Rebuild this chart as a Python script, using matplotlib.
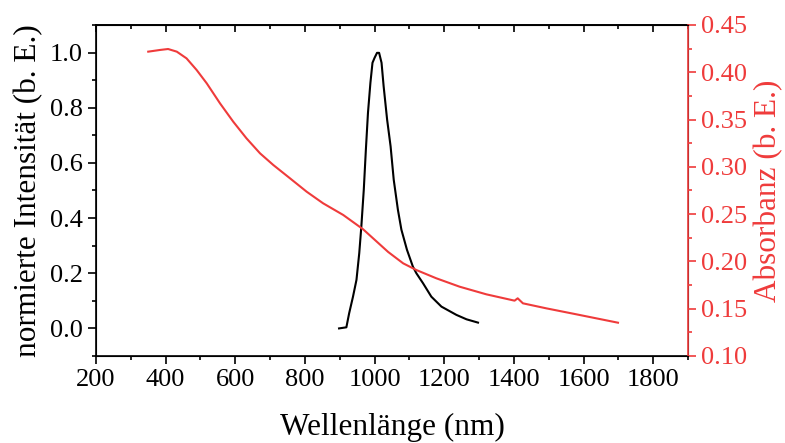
import matplotlib
matplotlib.use("Agg")
import matplotlib.pyplot as plt
from matplotlib.ticker import MultipleLocator, FormatStrFormatter

plt.rcParams['font.family'] = ['Liberation Serif', 'DejaVu Serif']

# Emission (black, left axis)
em_x = [898, 919, 927, 938, 948, 956, 962, 969, 975, 981, 988, 994, 1000, 1007,
        1013, 1020, 1026, 1036, 1046, 1055, 1067, 1077, 1093, 1110, 1120, 1139,
        1163, 1192, 1235, 1264, 1297]
em_y = [0.0, 0.004, 0.055, 0.115, 0.176, 0.273, 0.37, 0.503, 0.648, 0.781, 0.89,
        0.963, 0.981, 0.999, 0.999, 0.963, 0.878, 0.757, 0.66, 0.539, 0.43, 0.358,
        0.285, 0.224, 0.200, 0.164, 0.115, 0.079, 0.049, 0.033, 0.021]

# Absorbance (red, right axis)
ab_x = [350, 384, 407, 432, 460, 489, 518, 556, 594, 632, 671, 709, 757, 805, 852,
        910, 967, 1000, 1039, 1082, 1120, 1177, 1244, 1321, 1402, 1411, 1426, 1493,
        1579, 1699]
ab_y = [0.4218, 0.4236, 0.4246, 0.4218, 0.4147, 0.4024, 0.3883, 0.3672, 0.3478,
        0.3302, 0.3143, 0.3020, 0.2879, 0.2737, 0.2615, 0.2491, 0.2340, 0.2230,
        0.2100, 0.1980, 0.1909, 0.1822, 0.1733, 0.1652, 0.1585, 0.1610, 0.1557,
        0.1504, 0.1441, 0.1352]

red = '#ef3b3b'

fig = plt.figure(figsize=(7.85, 4.43), dpi=100)
ax = fig.add_axes([0.1223, 0.1964, 0.7541, 0.7472])
ax2 = ax.twinx()

ax.plot(em_x, em_y, color='black', lw=1.5)
ax2.plot(ab_x, ab_y, color=red, lw=1.5)

ax.set_xlim(200, 1900)
ax.set_ylim(-0.1, 1.1)
ax2.set_ylim(0.10, 0.45)

ax.xaxis.set_major_locator(MultipleLocator(200))
ax.xaxis.set_minor_locator(MultipleLocator(100))
ax.yaxis.set_major_locator(MultipleLocator(0.2))
ax.yaxis.set_minor_locator(MultipleLocator(0.1))
ax2.yaxis.set_major_locator(MultipleLocator(0.05))
ax2.yaxis.set_minor_locator(MultipleLocator(0.025))

ax.xaxis.set_major_formatter(FormatStrFormatter('%d'))
ax.yaxis.set_major_formatter(FormatStrFormatter('%.1f'))
ax2.yaxis.set_major_formatter(FormatStrFormatter('%.2f'))

fs = 19
ax.tick_params(axis='x', which='major', direction='out', length=6, width=1.2,
               labelsize=fs, top=False)
ax.tick_params(axis='x', which='minor', direction='out', length=3, width=1.2, top=False)
ax.tick_params(axis='y', which='major', direction='out', length=6, width=1.2, labelsize=fs)
ax.tick_params(axis='y', which='minor', direction='out', length=3, width=1.2)

# top axis ticks inward, no labels
sec = ax.secondary_xaxis('top')
sec.xaxis.set_major_locator(MultipleLocator(200))
sec.xaxis.set_minor_locator(MultipleLocator(100))
sec.tick_params(axis='x', which='major', direction='in', length=5, width=1.2, labeltop=False)
sec.tick_params(axis='x', which='minor', direction='in', length=3, width=1.2)
sec.spines['top'].set_linewidth(1.2)

ax2.tick_params(axis='y', which='major', direction='out', length=6, width=1.2,
                labelsize=fs, colors=red)
ax2.tick_params(axis='y', which='minor', direction='out', length=3, width=1.2, colors=red)
ax2.spines['right'].set_color(red)
for s in ['left', 'bottom', 'top']:
    ax.spines[s].set_linewidth(1.2)
ax2.spines['right'].set_linewidth(1.2)

ax.set_xlabel('Wellenlänge (nm)', fontsize=22.5, labelpad=16)
ax.set_ylabel('normierte Intensität (b. E.)', fontsize=22.5, labelpad=5)
ax2.set_ylabel('Absorbanz (b. E.)', fontsize=22.5, color=red, labelpad=5)

fig.savefig('out.png', dpi=100)
